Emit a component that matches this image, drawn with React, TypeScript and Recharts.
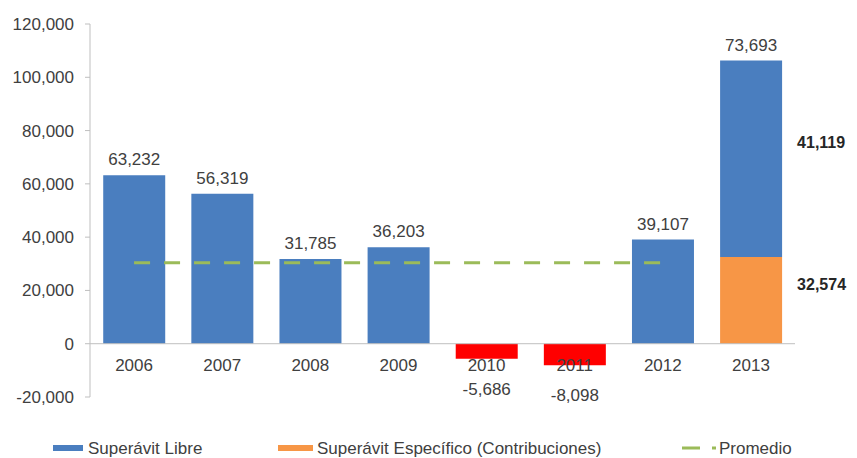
import React from 'react';
import { ComposedChart, Bar, Line, XAxis, YAxis, ReferenceLine, Cell, LabelList, Legend } from 'recharts';

const years = ['2006', '2007', '2008', '2009', '2010', '2011', '2012', '2013'];
const libre = [63232, 56319, 31785, 36203, -5686, -8098, 39107, 73693];
const especifico = [null, null, null, null, null, null, null, 32574];
const promedio = [30409, 30409, 30409, 30409, 30409, 30409, 30409, null];
const libreSide = [null, null, null, null, null, null, null, 41119];
const especificoSide = [null, null, null, null, null, null, null, 32574];
const yTicks = [-20000, 0, 20000, 40000, 60000, 80000, 100000, 120000];

const data = years.map((year, i) => ({
  year,
  libre: libre[i],
  especifico: especifico[i],
  promedio: promedio[i],
  libreSide: libreSide[i],
  especificoSide: especificoSide[i],
}));

const FONT = '"Liberation Sans", Arial, sans-serif';
const TEXT = '#404040';
const BLUE = '#4A7EBF';
const ORANGE = '#F79646';
const RED = '#FF0000';
const GREEN = '#9BBB59';
const AXIS = '#BFBFBF';

const fmt = (v: number) => v.toLocaleString('en-US');

const TopLabel = (props: any) => {
  const { x, y, width, height, value } = props;
  if (value == null) return null;
  const top = Math.min(y, y + height);
  const bottom = Math.max(y, y + height);
  const neg = value < 0;
  return (
    <text
      x={x + width / 2}
      y={neg ? bottom + 36 : top - 10}
      textAnchor="middle"
      fontSize={17}
      fill={TEXT}
      fontFamily={FONT}
    >
      {fmt(value)}
    </text>
  );
};

const SideLabel = (props: any) => {
  const { x, y, width, height, value } = props;
  if (value == null) return null;
  const top = Math.min(y, y + height);
  const h = Math.abs(height);
  return (
    <text
      x={x + width + 15}
      y={top + h / 2 - 16}
      dominantBaseline="central"
      fontSize={16}
      fontWeight="bold"
      fill="#262626"
      fontFamily={FONT}
    >
      {fmt(value)}
    </text>
  );
};

const XTick = (props: any) => {
  const { x, y, payload } = props;
  return (
    <text x={x} y={y - 32} textAnchor="middle" dominantBaseline="central" fontSize={17} fill={TEXT} fontFamily={FONT}>
      {payload.value}
    </text>
  );
};

const LegendContent = () => (
  <svg width={857} height={24} style={{ display: 'block' }}>
    <rect x={53} y={9} width={30} height={6} fill={BLUE} />
    <text x={88} y={12} dominantBaseline="central" fontSize={17} fill={TEXT} fontFamily={FONT}>
      Superávit Libre
    </text>
    <rect x={278} y={9} width={35} height={6} fill={ORANGE} />
    <text x={317} y={12} dominantBaseline="central" fontSize={17} fill={TEXT} fontFamily={FONT}>
      Superávit Específico (Contribuciones)
    </text>
    <line x1={682} y1={12} x2={716} y2={12} stroke={GREEN} strokeWidth={3} strokeDasharray="18 12" />
    <text x={719} y={12} dominantBaseline="central" fontSize={17} fill={TEXT} fontFamily={FONT}>
      Promedio
    </text>
  </svg>
);

export default function App() {
  return (
    <div style={{ position: 'absolute', left: 0, top: 0, width: 857, height: 458, background: '#fff' }}>
      <ComposedChart
        width={857}
        height={458}
        data={data}
        margin={{ top: 24, right: 62, left: 0, bottom: 7 }}
        barCategoryGap="15%"
      >
        <XAxis
          dataKey="year"
          axisLine={false}
          tickLine={false}
          tickSize={0}
          tickMargin={0}
          height={30}
          tick={<XTick />}
          interval={0}
        />
        <YAxis
          width={90}
          domain={[-20000, 120000]}
          ticks={yTicks}
          tickFormatter={fmt}
          axisLine={{ stroke: AXIS }}
          tickLine={{ stroke: AXIS }}
          tickSize={5}
          tickMargin={11}
          tick={{ fontSize: 17, fill: TEXT, fontFamily: FONT }}
          interval={0}
        />
        <ReferenceLine y={0} stroke={AXIS} strokeWidth={1} />
        <Bar dataKey="especifico" name="Superávit Específico (Contribuciones)" stackId="a" fill={ORANGE} isAnimationActive={false}>
          <LabelList dataKey="especificoSide" content={SideLabel} />
        </Bar>
        <Bar dataKey="libre" name="Superávit Libre" stackId="a" fill={BLUE} isAnimationActive={false}>
          {data.map((d, i) => (
            <Cell key={i} fill={d.libre < 0 ? RED : BLUE} />
          ))}
          <LabelList dataKey="libre" content={TopLabel} />
          <LabelList dataKey="libreSide" content={SideLabel} />
        </Bar>
        <Line
          dataKey="promedio"
          name="Promedio"
          stroke={GREEN}
          strokeWidth={3}
          strokeDasharray="16 14"
          dot={false}
          activeDot={false}
          isAnimationActive={false}
        />
        <Legend
          verticalAlign="bottom"
          content={<LegendContent />}
          wrapperStyle={{ position: 'absolute', left: 0, top: 436, bottom: 'auto', width: 857, height: 24 }}
        />
      </ComposedChart>
    </div>
  );
}
